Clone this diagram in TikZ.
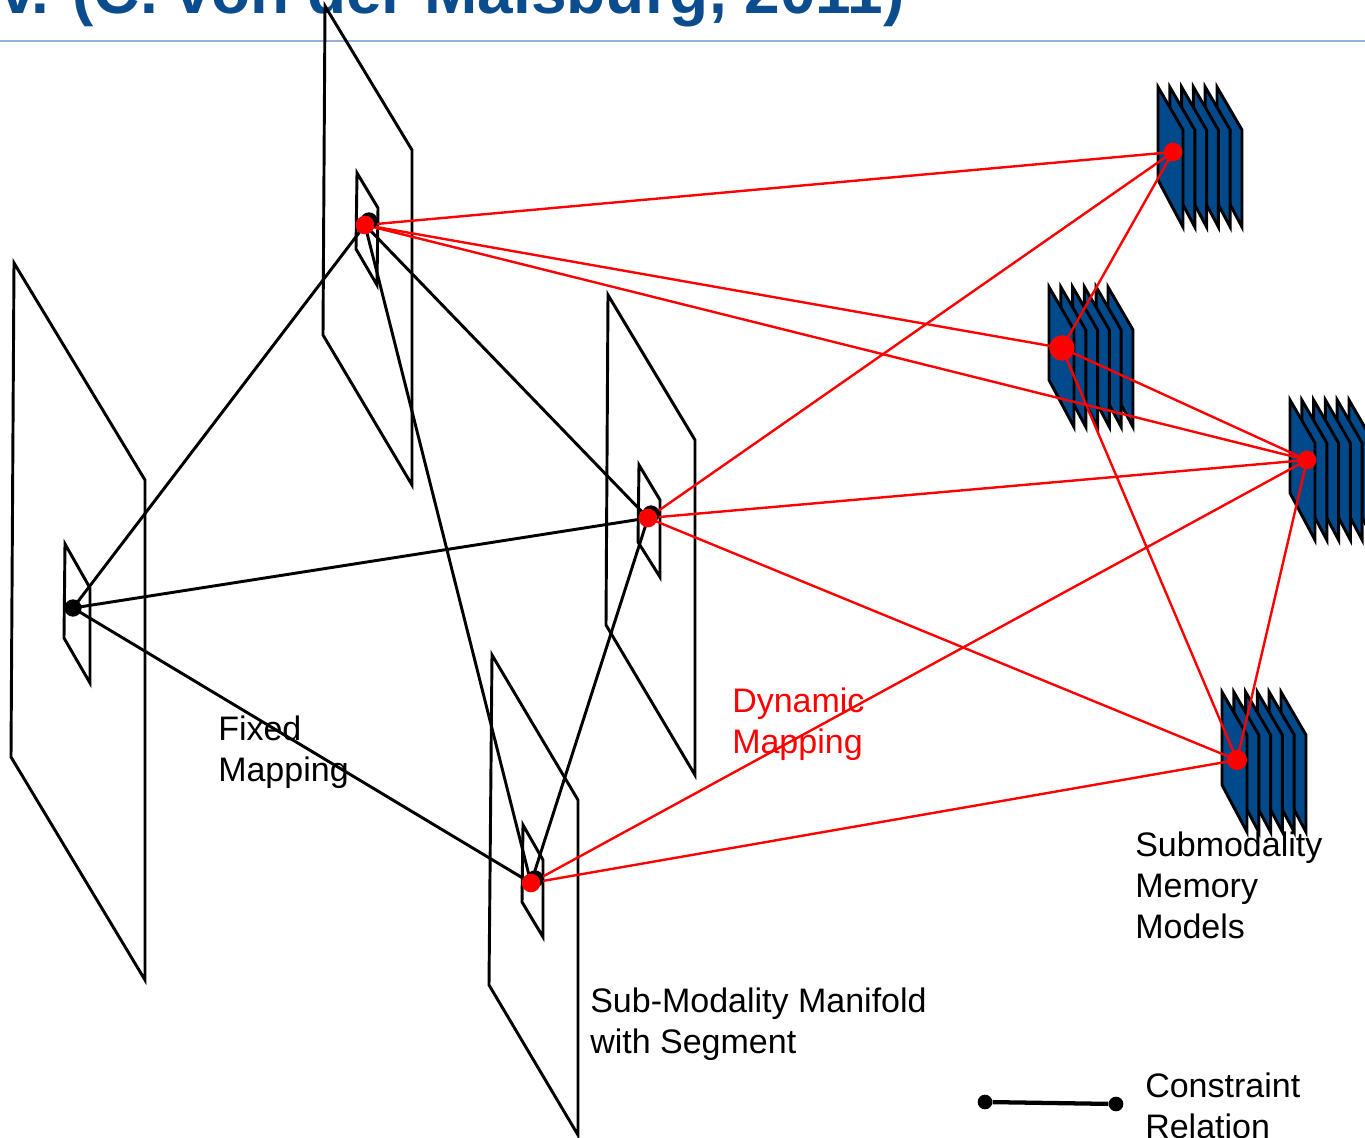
\documentclass[tikz,border=0pt]{standalone}
\usepackage{fontspec}
\setmainfont{Liberation Sans}
\usepackage{xcolor}
\definecolor{titleblue}{HTML}{0B4C8F}
\definecolor{ruleblue}{HTML}{95B3D7}
\definecolor{memblue}{HTML}{004A8C}
\usetikzlibrary{positioning}
\tikzset{
  plane/.style={draw=black, line width=2.2pt},
  sheet/.style={draw=black, fill=memblue, line width=2.2pt},
  fixline/.style={draw=black, line width=2.2pt},
  dynline/.style={draw=red, line width=1.8pt},
  bdot/.style={circle, fill=black, inner sep=0pt, minimum size=13pt},
  rdot/.style={circle, fill=red, inner sep=0pt, minimum size=14pt},
  lbl/.style={anchor=base west, align=left, inner sep=0pt,
              font=\fontsize{25.5}{30.75}\selectfont},
}
% stack of six memory sheets, front sheet corner at (#1,#2)
\newcommand{\memstack}[2]{%
  \foreach \i in {5,4,...,0}
    \path[sheet] ({#1+11.8*\i},#2) -- ++(25,43) -- ++(0,97) -- ++(-25,-47) -- cycle;
}

\begin{document}
\begin{tikzpicture}[x=0.75pt, y=-0.75pt]
  \useasboundingbox (0,0) rectangle (1365,1138);
  \clip (0,0) rectangle (1365,1138);
  % title and rule
  \node[anchor=base west, inner sep=0pt, text=titleblue,
        font=\fontsize{48}{48}\selectfont\bfseries] (title) at (0,14)
        {v. (C. von der Malsburg, 2011)};
  \draw[ruleblue, line width=2.2pt] (0,41) -- (1365,41);
  % manifolds
  \draw[plane] (14,263) -- (145,480) -- (145,980) -- (11,757) -- cycle;
  \draw[plane] (65,544) -- (90,588) -- (90,683) -- (64,638) -- cycle;
  \draw[plane] (325,6) -- (412,150) -- (412,485) -- (323,335) -- cycle;
  \draw[plane] (357,173) -- (378,208) -- (377,285) -- (356,249) -- cycle;
  \draw[plane] (608,295) -- (695,440) -- (695,775) -- (606,625) -- cycle;
  \draw[plane] (639,465) -- (660,500) -- (660,577) -- (638,542) -- cycle;
  \draw[plane] (492,655) -- (578,800) -- (578,1135) -- (489,985) -- cycle;
  \draw[plane] (523,825) -- (543,860) -- (543,937) -- (522,902) -- cycle;
  % memory models
  \memstack{1158}{87}
  \memstack{1049}{287}
  \memstack{1290}{400}
  \memstack{1222}{692}
  % segment and model points
  \coordinate (a) at (73,608);
  \coordinate (b) at (365,225);
  \coordinate (c) at (648,518);
  \coordinate (d) at (531,883);
  \coordinate (m1) at (1173,152);
  \coordinate (m2) at (1062,348);
  \coordinate (m3) at (1307,460);
  \coordinate (m4) at (1237,760);
  % fixed mapping
  \draw[fixline] (a) -- (b);
  \draw[fixline] (a) -- (c);
  \draw[fixline] (a) -- (d);
  \draw[fixline] (b) -- (c);
  \draw[fixline] (b) -- (d);
  \draw[fixline] (c) -- (d);
  % dynamic mapping
  \draw[dynline] (b) -- (m1);
  \draw[dynline] (b) -- (m2);
  \draw[dynline] (b) -- (m3);
  \draw[dynline] (c) -- (m1);
  \draw[dynline] (c) -- (m3);
  \draw[dynline] (c) -- (m4);
  \draw[dynline] (d) -- (m3);
  \draw[dynline] (d) -- (m4);
  \draw[dynline] (m1) -- (m2);
  \draw[dynline] (m2) -- (m3);
  \draw[dynline] (m2) -- (m4);
  \draw[dynline] (m3) -- (m4);
  % dots
  \node[bdot] (ad) at (a) {};
  \node[bdot] (bk) at (369,221) {};
  \node[bdot] (ck) at (651,514) {};
  \node[bdot] (dk) at (535,879) {};
  \node[rdot] (bd) at (b) {};
  \node[rdot] (cd) at (c) {};
  \node[rdot] (dd) at (d) {};
  \node[rdot] (m1d) at (m1) {};
  \node[rdot, minimum size=19pt] (m2d) at (m2) {};
  \node[rdot] (m3d) at (m3) {};
  \node[rdot, minimum size=15pt] (m4d) at (m4) {};
  % labels (base = last line)
  \node[lbl] (fixed) at (218,781) {Fixed\\Mapping};
  \node[lbl, text=red] (dyn) at (732,753) {Dynamic\\Mapping};
  \node[lbl] (models) at (1135,938) {Submodality\\Memory\\Models};
  \node[lbl] (manifold) at (590,1053) {Sub-Modality Manifold\\with Segment};
  \node[lbl] (constr) at (1145,1138) {Constraint\\Relation};
  % legend
  \node[bdot, minimum size=11pt] (l1) at (985,1102) {};
  \node[bdot, minimum size=11pt] (l2) at (1116,1104) {};
  \draw[fixline, line width=3.2pt] (l1) -- (l2);
\end{tikzpicture}
\end{document}
